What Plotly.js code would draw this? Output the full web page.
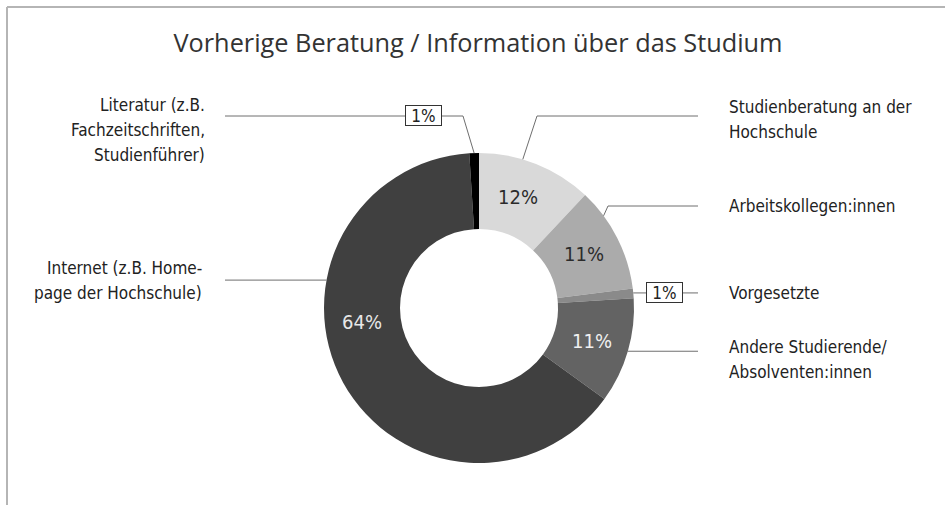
<!DOCTYPE html>
<html>
<head>
<meta charset="utf-8">
<script src="https://cdn.plot.ly/plotly-3.0.1.min.js"></script>
<style>html,body{margin:0;padding:0;background:#fff;}#chart{width:945px;height:505px;}</style>
</head>
<body>
<div id="chart"></div>
<script>
// ---- data ----
const categories = [
  "Studienberatung an der<br>Hochschule",
  "Arbeitskollegen:innen",
  "Vorgesetzte",
  "Andere Studierende/<br>Absolventen:innen",
  "Internet (z.B. Home-<br>page der Hochschule)",
  "Literatur (z.B.<br>Fachzeitschriften,<br>Studienführer)"
];
const values = [12, 11, 1, 11, 64, 1];
const percentLabels = ["12%", "11%", "1%", "11%", "64%", "1%"];
const chartTitle = "Vorherige Beratung / Information über das Studium";

// ---- styles / layout ----
const W = 945, H = 505;
const colors = ["#d9d9d9", "#ababab", "#8a8a8a", "#636363", "#404040", "#000000"];
const insideTextColors = ["#2b2b2b", "#2b2b2b", null, "#f0f0f0", "#e8e8e8", null];
const cx = 479, cy = 308, R = 155, RIN = 79;
const FONT = "'DejaVu Sans Condensed', 'Liberation Sans Narrow', sans-serif";
const TFONT = "'Open Sans', 'Noto Sans', sans-serif";
const LINE_GAP = 25;

// per-slice label configuration (layout only)
const labelCfg = [
  {side: "r", frac: 0.38, elbow: [537, 116], endx: 698, ly: 119.5, lx: 727},
  {side: "r", frac: 0.26, elbow: [608, 206], endx: 698, ly: 206, lx: 727},
  {side: "r", frac: 0.45, elbow: null, endx: 698, ly: 293, lx: 727, box: [664.5, 293]},
  {side: "r", frac: 0.5, elbow: null, endx: 698, ly: 359.5, lx: 727},
  {side: "l", frac: 0.67, elbow: null, endx: 225, ly: 280.5, lx: 204},
  {side: "l", frac: 0.5, elbow: [463, 116], endx: 225, ly: 130, lx: 207, box: [423.5, 116]}
];
const insideFrac = [0.45, 0.5, null, 0.5, 0.595, null];
const insideR = 118;

const px = x => x / W;
const py = y => 1 - y / H;

// angles from data
const total = values.reduce((a, b) => a + b, 0);
let cum = 0;
const starts = [], spans = [];
values.forEach(v => { starts.push(cum / total * 360); spans.push(v / total * 360); cum += v; });
const pt = (deg, r) => {
  const t = deg * Math.PI / 180;
  return [cx + r * Math.sin(t), cy - r * Math.cos(t)];
};

const shapes = [];
const annotations = [];
const lineStyle = {color: "#6e6e6e", width: 1};

labelCfg.forEach((c, i) => {
  const ang = starts[i] + c.frac * spans[i];
  const a = pt(ang, R);
  let pts;
  if (c.elbow) pts = [a, c.elbow, [c.endx, c.elbow[1]]];
  else pts = [a, [c.endx, a[1]]];
  for (let k = 0; k < pts.length - 1; k++) {
    shapes.push({type: "line", xref: "paper", yref: "paper",
      x0: px(pts[k][0]), y0: py(pts[k][1]), x1: px(pts[k + 1][0]), y1: py(pts[k + 1][1]),
      line: lineStyle, layer: "above"});
  }
  if (c.box) {
    const by = c.elbow ? c.elbow[1] : a[1];
    annotations.push({xref: "paper", yref: "paper", x: px(c.box[0]), y: py(by),
      xanchor: "center", yanchor: "middle", text: percentLabels[i], showarrow: false,
      font: {family: FONT, size: 17, color: "#222"},
      bgcolor: "#ffffff", bordercolor: "#333", borderwidth: 1, width: 35, height: 19, borderpad: 0});
  }
  const lines = categories[i].split("<br>");
  lines.forEach((ln, k) => {
    const yy = c.ly + (k - (lines.length - 1) / 2) * LINE_GAP;
    annotations.push({xref: "paper", yref: "paper", x: px(c.lx), y: py(yy),
      xanchor: c.side === "r" ? "left" : "right", yanchor: "middle",
      text: ln, showarrow: false,
      font: {family: FONT, size: 17, color: "#222"}});
  });
});

insideFrac.forEach((f, i) => {
  if (f === null) return;
  const p = pt(starts[i] + f * spans[i], insideR);
  annotations.push({xref: "paper", yref: "paper", x: px(p[0]), y: py(p[1]),
    xanchor: "center", yanchor: "middle", text: percentLabels[i], showarrow: false,
    font: {family: FONT, size: 20, color: insideTextColors[i]}});
});

// frame
shapes.push({type: "line", xref: "paper", yref: "paper", x0: px(7), y0: py(505), x1: px(7), y1: py(7), line: {color: "#b5b5b5", width: 2}});
shapes.push({type: "line", xref: "paper", yref: "paper", x0: px(7), y0: py(7), x1: px(945), y1: py(7), line: {color: "#b5b5b5", width: 2}});

const trace = {
  type: "pie",
  labels: categories,
  values: values,
  sort: false,
  direction: "clockwise",
  rotation: 0,
  hole: RIN / R,
  marker: {colors: colors, line: {width: 0}},
  textinfo: "none",
  hoverinfo: "label+percent",
  showlegend: false,
  domain: {x: [px(cx - R), px(cx + R)], y: [py(cy + R), py(cy - R)]}
};

const layout = {
  width: W, height: H,
  margin: {l: 0, r: 0, t: 0, b: 0},
  paper_bgcolor: "#ffffff",
  title: {text: chartTitle, x: px(478), xanchor: "center", y: py(43), yanchor: "middle", yref: "container",
    font: {family: TFONT, size: 25.3, color: "#333"}},
  shapes: shapes,
  annotations: annotations,
  showlegend: false
};

Plotly.newPlot("chart", [trace], layout, {displayModeBar: false, staticPlot: true});
</script>
</body>
</html>
